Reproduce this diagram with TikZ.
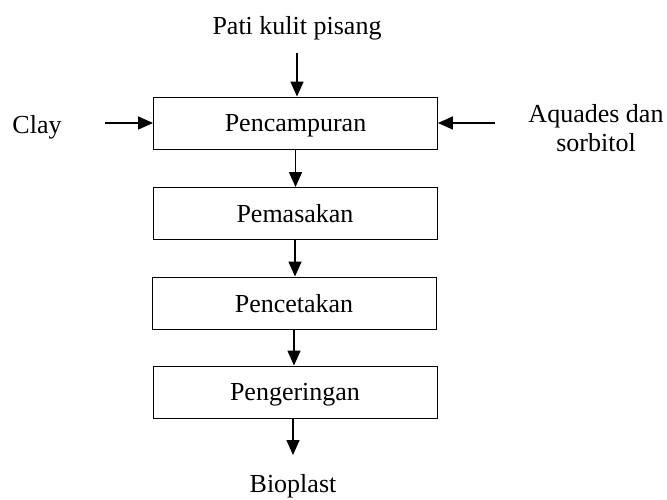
\documentclass[tikz,border=0pt]{standalone}
\usepackage{fontspec}
\setmainfont{Liberation Serif}
\usetikzlibrary{arrows.meta}

\begin{document}
\begin{tikzpicture}[x=1pt, y=-1pt,
    prosesbox/.style={draw, line width=0.9pt, minimum width=284pt, minimum height=52pt,
      inner sep=0pt, text depth=0pt, font=\fontsize{26}{30}\selectfont},
    label/.style={font=\fontsize{26}{30}\selectfont, inner sep=0pt, align=center},
    panah/.style={line width=1.5pt, -{Triangle[length=15pt, width=13pt]}}]
        \useasboundingbox (0,0) rectangle (667,500);
        % Proses
        \node[prosesbox] (campur) at (295.5,123) {Pencampuran};
        \node[prosesbox] (masak) at (295,213.5) {Pemasakan};
        \node[prosesbox] (cetak) at (294,303) {Pencetakan};
        \node[prosesbox] (kering) at (295,392) {Pengeringan};
        % Bahan masuk dan keluar
        \node[label] (pati) at (297,28) {Pati kulit pisang};
        \node[label] (clay) at (37,127) {Clay};
        \node[label] (aquades) at (596,128) {Aquades dan\\[-1pt]sorbitol};
        \node[label] (bioplast) at (293,486) {Bioplast};
        \coordinate (patiin) at (297,53);
        \coordinate (clayin) at (105,123);
        \coordinate (aquadesin) at (495,123);
        \coordinate (bioout) at (293,455);
        % Panah
        \draw[panah] (patiin) -- (patiin |- campur.north);
        \draw[panah] (clayin) -- (campur.west);
        \draw[panah] (aquadesin) -- (campur.east);
        \draw[panah] (campur.south) -- (campur.south |- masak.north);
        \draw[panah] (masak.south) -- (masak.south |- cetak.north);
        \draw[panah] (cetak.south) -- (cetak.south |- kering.north);
        \draw[panah] (kering.south -| bioout) -- (bioout);
      \end{tikzpicture}
\end{document}
